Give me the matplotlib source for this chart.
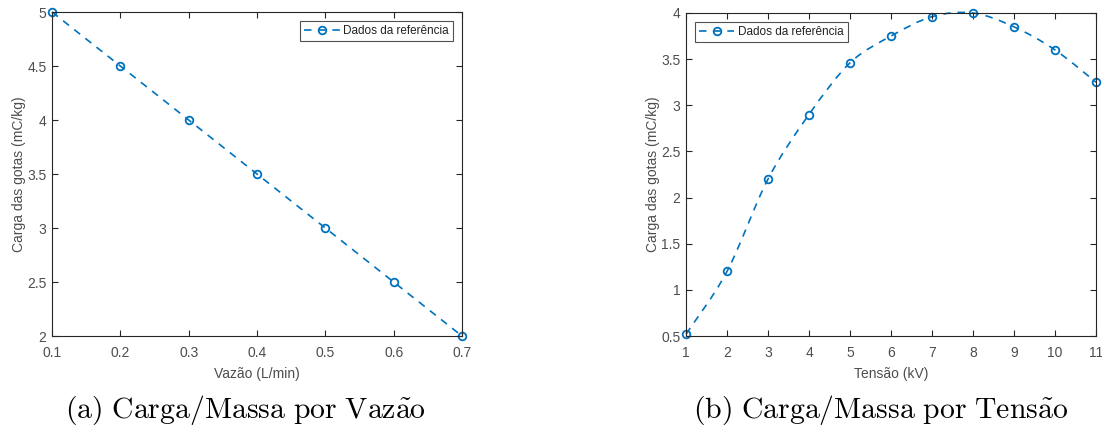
import matplotlib
matplotlib.use("Agg")
import matplotlib.pyplot as plt
from matplotlib.path import Path
from matplotlib.patches import PathPatch
from matplotlib.lines import Line2D

# Data
vazao = [0.1, 0.2, 0.3, 0.4, 0.5, 0.6, 0.7]
carga_vazao = [5.0, 4.5, 4.0, 3.5, 3.0, 2.5, 2.0]

tensao = [1, 2, 3, 4, 5, 6, 7, 8, 9, 10, 11]
carga_tensao = [0.52, 1.2, 2.2, 2.9, 3.46, 3.75, 3.96, 4.0, 3.85, 3.6, 3.25]

legend_label = "Dados da referência"
ylabel = "Carga das gotas (mC/kg)"
xlabel_a = "Vazão (L/min)"
xlabel_b = "Tensão (kV)"
caption_a = r"$\mathrm{(a)\ Carga/Massa\ por\ Vaz\tilde{a}o}$"
caption_b = r"$\mathrm{(b)\ Carga/Massa\ por\ Tens\tilde{a}o}$"

blue = "#0072BD"
axcol = "#262626"
tickcol = "#4d4d4d"

plt.rcParams['font.family'] = ['Liberation Sans', 'DejaVu Sans']
plt.rcParams['mathtext.fontset'] = 'cm'

fig = plt.figure(figsize=(11.02, 4.30), dpi=100)

def smooth_path(xs, ys):
    # Catmull-Rom style Bezier segments through the data points
    verts = [(xs[0], ys[0])]
    codes = [Path.MOVETO]
    n = len(xs)
    for i in range(n - 1):
        x0, y0 = (xs[i - 1], ys[i - 1]) if i > 0 else (xs[i], ys[i])
        x1, y1 = xs[i], ys[i]
        x2, y2 = xs[i + 1], ys[i + 1]
        x3, y3 = (xs[i + 2], ys[i + 2]) if i + 2 < n else (x2, y2)
        c1 = (x1 + (x2 - x0) / 6.0, y1 + (y2 - y0) / 6.0)
        c2 = (x2 - (x3 - x1) / 6.0, y2 - (y3 - y1) / 6.0)
        verts += [c1, c2, (x2, y2)]
        codes += [Path.CURVE4] * 3
    return Path(verts, codes)

DASH = (0, (4.5, 4.0))
MS = 5.5
FS = 10

def style_axes(ax):
    for s in ax.spines.values():
        s.set_color(axcol)
        s.set_linewidth(0.8)
    ax.tick_params(direction='in', length=4, width=0.8, colors=axcol,
                   labelcolor=tickcol, labelsize=FS, top=True, right=True)
    ax.tick_params(axis='x', pad=7.5)
    ax.tick_params(axis='y', pad=4)

def draw(ax, xs, ys, smooth, xlim, ylim, xticks, yticks, xlabel, legloc):
    if smooth:
        patch = PathPatch(smooth_path(xs, ys), facecolor='none', edgecolor=blue,
                          linewidth=1.2, linestyle=DASH, clip_on=False)
        ax.add_patch(patch)
        ax.plot(xs, ys, linestyle='none', marker='o', markersize=MS,
                markerfacecolor='none', markeredgecolor=blue, markeredgewidth=1.3,
                clip_on=False)
    else:
        ax.plot(xs, ys, linestyle=DASH, color=blue, linewidth=1.2,
                marker='o', markersize=MS, markerfacecolor='none',
                markeredgewidth=1.3, clip_on=False)
    ax.set_xlim(*xlim)
    ax.set_ylim(*ylim)
    ax.set_xticks(xticks)
    ax.set_yticks(yticks)
    ax.set_xticklabels([f"{t:g}" for t in xticks])
    ax.set_yticklabels([f"{t:g}" for t in yticks])
    ax.set_xlabel(xlabel, fontsize=FS, color=tickcol, labelpad=5)
    ax.set_ylabel(ylabel, fontsize=FS, color=tickcol, labelpad=1)
    style_axes(ax)
    h = Line2D([], [], linestyle=DASH, color=blue, linewidth=1.2,
               marker='o', markersize=MS, markerfacecolor='none', markeredgewidth=1.3)
    leg = ax.legend([h], [legend_label], loc=legloc, fontsize=8.5, frameon=True,
                    fancybox=False, edgecolor=axcol, handlelength=3.0,
                    borderpad=0.35, handletextpad=0.3, borderaxespad=0.75)
    leg.get_frame().set_linewidth(0.8)
    for t in leg.get_texts():
        t.set_color('#222222')

ax1 = fig.add_axes([52/1102, 1 - 336/430, (462 - 52)/1102, (336 - 12)/430])
draw(ax1, vazao, carga_vazao, False, (0.1, 0.7), (2, 5),
     [0.1, 0.2, 0.3, 0.4, 0.5, 0.6, 0.7], [2, 2.5, 3, 3.5, 4, 4.5, 5],
     xlabel_a, 'upper right')

ax2 = fig.add_axes([686/1102, 1 - 336/430, (1096 - 686)/1102, (336 - 13)/430])
draw(ax2, tensao, carga_tensao, True, (1, 11), (0.5, 4),
     list(range(1, 12)), [0.5, 1, 1.5, 2, 2.5, 3, 3.5, 4],
     xlabel_b, 'upper left')

capfont = dict(fontsize=21.4, color='black')
fig.text(245/1102, 1 - 410/430, caption_a, ha='center', va='center', **capfont)
fig.text(881/1102, 1 - 410/430, caption_b, ha='center', va='center', **capfont)

fig.savefig("out.png", dpi=100)
